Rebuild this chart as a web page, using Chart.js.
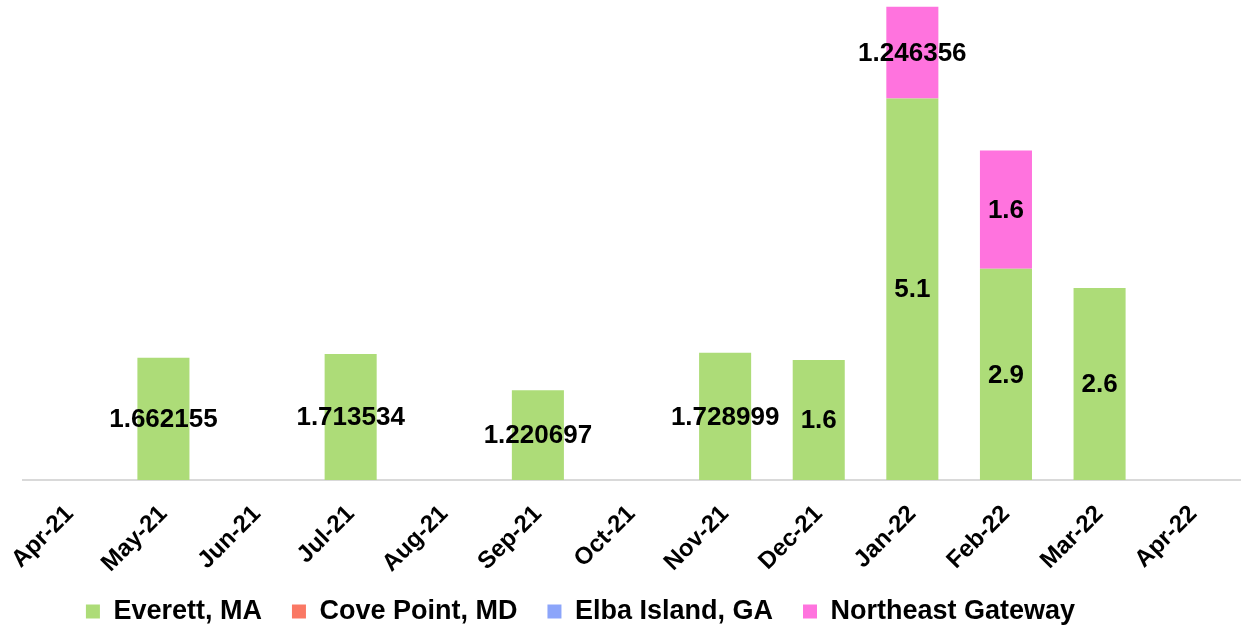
<!DOCTYPE html>
<html>
<head>
<meta charset="utf-8">
<script src="https://cdn.jsdelivr.net/npm/chart.js@4.4.1/dist/chart.umd.min.js"></script>
<style>
html,body{margin:0;padding:0;background:#fff;}
#wrap{width:1249px;height:629px;position:relative;}
</style>
</head>
<body>
<div id="wrap"><canvas id="c"></canvas></div>
<script>
const categories = ["Apr-21","May-21","Jun-21","Jul-21","Aug-21","Sep-21","Oct-21","Nov-21","Dec-21","Jan-22","Feb-22","Mar-22","Apr-22"];
const everett =    [0, 1.662155, 0, 1.713534, 0, 1.220697, 0, 1.728999, 1.63, 5.185, 2.87, 2.61, 0];
const covePoint =  [0, 0, 0, 0, 0, 0, 0, 0, 0, 0, 0, 0, 0];
const elbaIsland = [0, 0, 0, 0, 0, 0, 0, 0, 0, 0, 0, 0, 0];
const northeast =  [0, 0, 0, 0, 0, 0, 0, 0, 0, 1.246356, 1.607, 0, 0];
// value labels as printed on the bars
const everettLabels =   ["", "1.662155", "", "1.713534", "", "1.220697", "", "1.728999", "1.6", "5.1", "2.9", "2.6", ""];
const covePointLabels = ["", "", "", "", "", "", "", "", "", "", "", "", ""];
const elbaLabels =      ["", "", "", "", "", "", "", "", "", "", "", "", ""];
const northeastLabels = ["", "", "", "", "", "", "", "", "", "1.246356", "1.6", "", ""];
const seriesNames = ["Everett, MA","Cove Point, MD","Elba Island, GA","Northeast Gateway"];
const seriesColors = ["#ADDC78","#FA7864","#8CA5FA","#FF73DE"];
const allLabels = [everettLabels, covePointLabels, elbaLabels, northeastLabels];

const FONT = "'Liberation Sans', Arial, sans-serif";

const labelPlugin = {
  id: 'valueLabels',
  afterDatasetsDraw(chart) {
    const ctx = chart.ctx;
    ctx.save();
    ctx.font = "bold 26px " + FONT;
    ctx.fillStyle = "#000";
    ctx.textAlign = "center";
    ctx.textBaseline = "middle";
    chart.data.datasets.forEach((ds, i) => {
      const meta = chart.getDatasetMeta(i);
      meta.data.forEach((bar, j) => {
        const t = allLabels[i][j];
        if (!t) return;
        const y = (bar.y + bar.base) / 2;
        ctx.fillText(t, bar.x, y + 1);
      });
    });
    ctx.restore();
  }
};

const legendShift = {
  id: 'legendShift',
  afterLayout(chart) {
    const lg = chart.legend;
    if (!lg) return;
    lg.left -= 51; lg.right -= 51;
    lg.top -= 17; lg.bottom -= 17;
  }
};

const datasets = [everett, covePoint, elbaIsland, northeast].map((d, i) => ({
  label: seriesNames[i],
  data: d,
  backgroundColor: seriesColors[i],
  borderWidth: 0,
  barPercentage: 0.556,
  categoryPercentage: 1.0
}));

new Chart(document.getElementById('c'), {
  type: 'bar',
  data: { labels: categories, datasets },
  options: {
    responsive: true,
    maintainAspectRatio: false,
    animation: false,
    layout: { padding: { left: 23, right: 9, top: 5, bottom: -23 } },
    plugins: {
      tooltip: { enabled: false },
      legend: {
        position: 'bottom',
        labels: {
          font: { family: FONT, size: 27, weight: 'bold' },
          color: '#000',
          boxWidth: 14,
          boxHeight: 14,
          padding: 30
        }
      }
    },
    scales: {
      x: {
        stacked: true,
        grid: { display: false, drawTicks: false },
        border: { display: true, color: '#d9d9d9', width: 2 },
        ticks: {
          color: '#000',
          font: { family: FONT, size: 24, weight: 'bold' },
          maxRotation: 45,
          minRotation: 45,
          padding: 20,
          autoSkip: false
        },
        afterFit(scale) { scale.height = 105; scale.paddingLeft = 0; scale.paddingRight = 0; }
      },
      y: {
        stacked: true,
        display: false,
        min: 0,
        max: 6.454
      }
    }
  },
  plugins: [labelPlugin, legendShift]
});
</script>
</body>
</html>
